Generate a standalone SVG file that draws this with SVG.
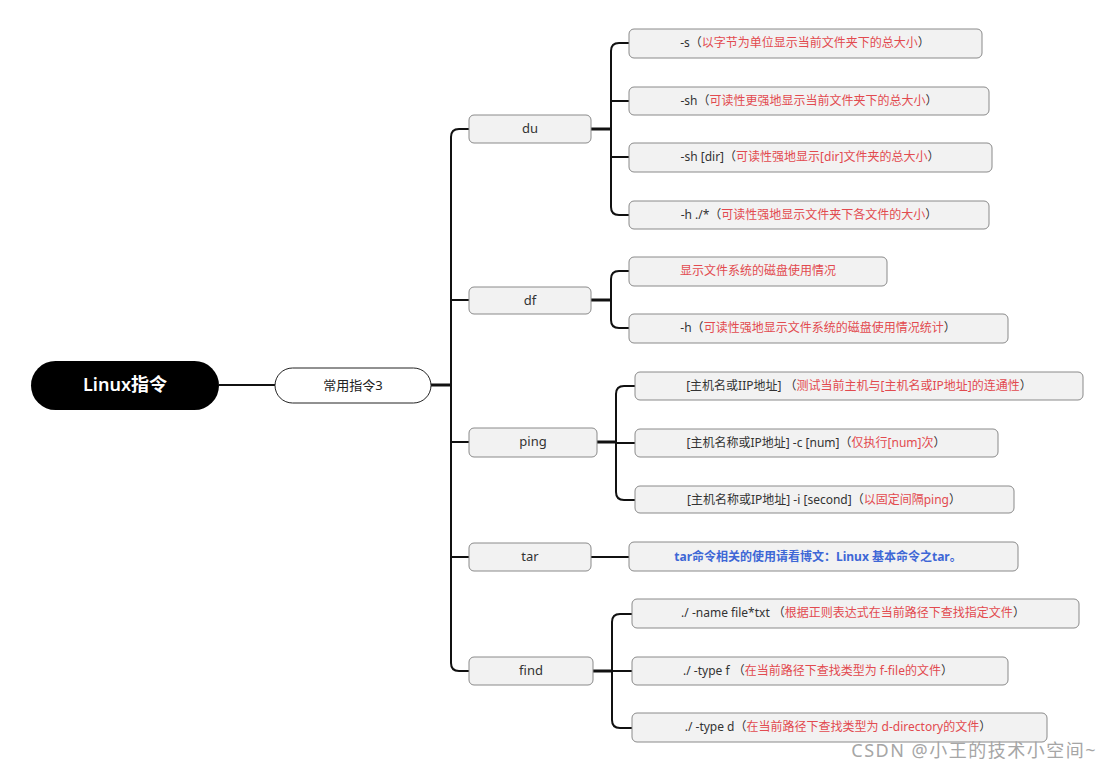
<svg xmlns="http://www.w3.org/2000/svg" width="1112" height="772" viewBox="0 0 1112 772">
<style>
text{font-family:"Noto Sans","Noto Sans CJK SC",sans-serif;}
.box{fill:#f2f2f2;stroke:#8a8a8a;stroke-width:1;}
.l2{font-size:13px;fill:#333;text-anchor:middle;}
.l3{font-size:12px;fill:#333;text-anchor:middle;}
.r{fill:#e24a4f;}
.blue{font-size:12px;fill:#3e67d6;font-weight:bold;text-anchor:middle;}
.c{fill:none;stroke:#111;stroke-width:2;}
.ct{fill:none;stroke:#111;stroke-width:3;}
</style>
<rect width="1112" height="772" fill="#fff"/>
<g id="connectors">
<path class="c" d="M219,385 H275"/>
<path class="ct" d="M431,385 H451"/>
<path class="c" d="M451,385 V137 Q451,129 459,129 H469"/>
<path class="c" d="M451,385 V300 H469"/>
<path class="c" d="M451,385 V442 H469"/>
<path class="c" d="M451,385 V557 H469"/>
<path class="c" d="M451,385 V663 Q451,671 459,671 H469"/>
<path class="ct" d="M591,129 H611"/>
<path class="c" d="M611,129 V51 Q611,43 619,43 H629"/>
<path class="c" d="M611,129 V101 H629"/>
<path class="c" d="M611,129 V157 H629"/>
<path class="c" d="M611,129 V207 Q611,215 619,215 H629"/>
<path class="ct" d="M591,300 H611"/>
<path class="c" d="M611,300 V279 Q611,271 619,271 H629"/>
<path class="c" d="M611,300 V320 Q611,328 619,328 H629"/>
<path class="ct" d="M597,442 H616"/>
<path class="c" d="M616,442 V394 Q616,386 624,386 H635"/>
<path class="c" d="M616,442 V443 H635"/>
<path class="c" d="M616,442 V492 Q616,500 624,500 H635"/>
<path class="c" d="M591,557 H629"/>
<path class="ct" d="M593,671 H612"/>
<path class="c" d="M612,671 V622 Q612,614 620,614 H632"/>
<path class="c" d="M612,671 H632"/>
<path class="c" d="M612,671 V720 Q612,728 620,728 H632"/>
</g>
<g id="root">
<rect x="31" y="361" width="188" height="49" rx="24.5" fill="#000"/>
<text x="125" y="391" font-size="18" font-weight="600" fill="#fff" text-anchor="middle">Linux指令</text>
</g>
<g id="common">
<rect x="275" y="368" width="156" height="35" rx="17.5" fill="#fff" stroke="#222" stroke-width="1"/>
<text x="353" y="390" font-size="13" fill="#222" text-anchor="middle">常用指令3</text>
</g>
<g id="du">
<rect class="box" x="469" y="115" width="122" height="28" rx="5"/>
<text class="l2" x="530" y="133">du</text>
</g>
<g id="df">
<rect class="box" x="469" y="287" width="122" height="27" rx="5"/>
<text class="l2" x="530" y="305">df</text>
</g>
<g id="ping">
<rect class="box" x="469" y="428" width="128" height="29" rx="5"/>
<text class="l2" x="533" y="446">ping</text>
</g>
<g id="tar">
<rect class="box" x="469" y="543" width="122" height="28" rx="5"/>
<text class="l2" x="530" y="561">tar</text>
</g>
<g id="find">
<rect class="box" x="469" y="657" width="124" height="28" rx="5"/>
<text class="l2" x="531" y="675">find</text>
</g>
<g id="du-s">
<rect class="box" x="629" y="29" width="353" height="29" rx="5"/>
<text class="l3" x="805" y="47">-s（<tspan class="r">以字节为单位显示当前文件夹下的总大小</tspan>）</text>
</g>
<g id="du-sh">
<rect class="box" x="629" y="87" width="360" height="28" rx="5"/>
<text class="l3" x="809" y="105">-sh（<tspan class="r">可读性更强地显示当前文件夹下的总大小</tspan>）</text>
</g>
<g id="du-shdir">
<rect class="box" x="629" y="143" width="363" height="29" rx="5"/>
<text class="l3" x="810" y="161">-sh [dir]（<tspan class="r">可读性强地显示[dir]文件夹的总大小</tspan>）</text>
</g>
<g id="du-h">
<rect class="box" x="629" y="201" width="360" height="28" rx="5"/>
<text class="l3" x="809" y="219">-h ./*（<tspan class="r">可读性强地显示文件夹下各文件的大小</tspan>）</text>
</g>
<g id="df-1">
<rect class="box" x="629" y="257" width="258" height="29" rx="5"/>
<text class="l3" x="758" y="275"><tspan class="r">显示文件系统的磁盘使用情况</tspan></text>
</g>
<g id="df-h">
<rect class="box" x="629" y="314" width="379" height="29" rx="5"/>
<text class="l3" x="818" y="332">-h（<tspan class="r">可读性强地显示文件系统的磁盘使用情况统计</tspan>）</text>
</g>
<g id="ping-1">
<rect class="box" x="635" y="372" width="448" height="28" rx="5"/>
<text class="l3" x="859" y="390">[主机名或IIP地址] （<tspan class="r">测试当前主机与[主机名或IP地址]的连通性</tspan>）</text>
</g>
<g id="ping-c">
<rect class="box" x="635" y="429" width="363" height="28" rx="5"/>
<text class="l3" x="816" y="447">[主机名称或IP地址] -c [num]（<tspan class="r">仅执行[num]次</tspan>）</text>
</g>
<g id="ping-i">
<rect class="box" x="635" y="486" width="379" height="27" rx="5"/>
<text class="l3" x="824" y="504">[主机名称或IP地址] -i [second]（<tspan class="r">以固定间隔ping</tspan>）</text>
</g>
<g id="tar-1">
<rect class="box" x="629" y="542" width="389" height="29" rx="5"/>
<text class="blue" x="818" y="561">tar命令相关的使用请看博文：Linux 基本命令之tar。</text>
</g>
<g id="find-name">
<rect class="box" x="632" y="599" width="447" height="29" rx="5"/>
<text class="l3" x="853" y="617">./ -name file*txt （<tspan class="r">根据正则表达式在当前路径下查找指定文件</tspan>）</text>
</g>
<g id="find-f">
<rect class="box" x="632" y="657" width="376" height="28" rx="5"/>
<text class="l3" x="818" y="675">./ -type f （<tspan class="r">在当前路径下查找类型为 f-file的文件</tspan>）</text>
</g>
<g id="find-d">
<rect class="box" x="632" y="713" width="415" height="29" rx="5"/>
<text class="l3" x="838" y="731">./ -type d（<tspan class="r">在当前路径下查找类型为 d-directory的文件</tspan>）</text>
</g>
<text x="1097" y="757" font-size="18" fill="#a6a6a6" text-anchor="end" letter-spacing="1.5">CSDN @小王的技术小空间~</text>
</svg>
